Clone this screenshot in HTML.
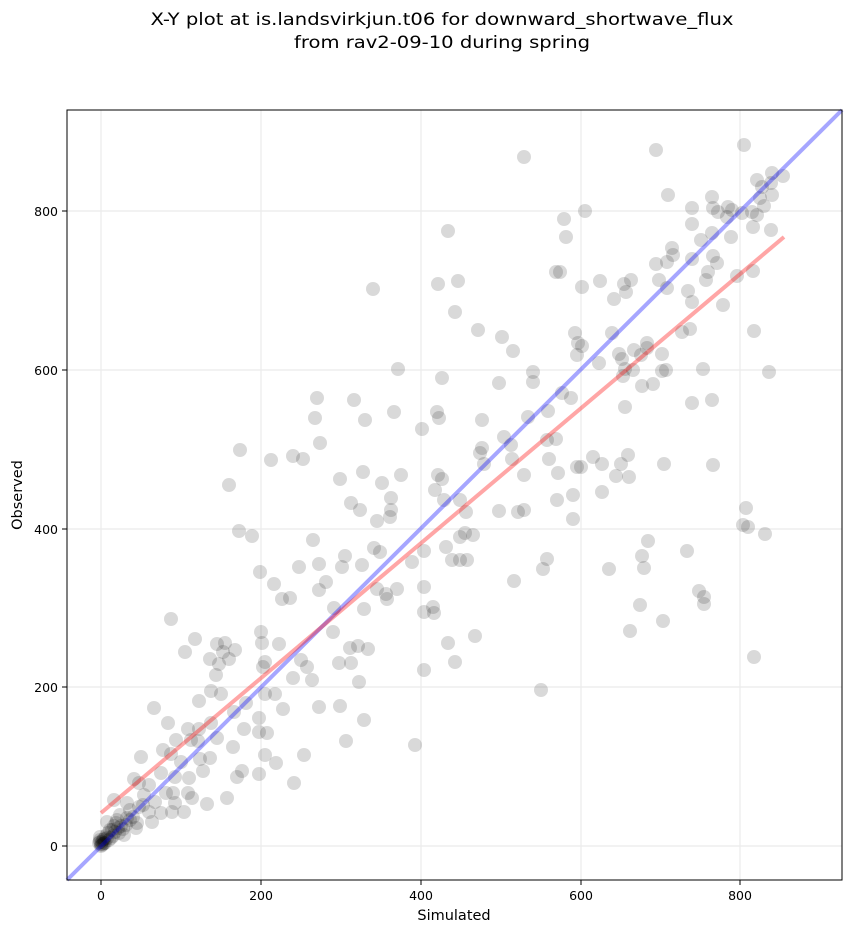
<!DOCTYPE html>
<html><head><meta charset="utf-8"><style>
body{margin:0;background:#fff}
svg text{font-family:"DejaVu Sans","Liberation Sans",sans-serif}
</style></head><body>
<svg id="s" width="851" height="934" xmlns="http://www.w3.org/2000/svg">
<rect width="851" height="934" fill="#fff"/>
<text x="442" y="25" font-size="17" text-anchor="middle" textLength="583" lengthAdjust="spacingAndGlyphs">X-Y plot at is.landsvirkjun.t06 for downward_shortwave_flux</text>
<text x="442" y="48" font-size="17" text-anchor="middle" textLength="296" lengthAdjust="spacingAndGlyphs">from rav2-09-10 during spring</text>
<g stroke="#ebebeb" stroke-width="1.2">
<line x1="101" y1="110" x2="101" y2="880"/><line x1="261" y1="110" x2="261" y2="880"/><line x1="421" y1="110" x2="421" y2="880"/><line x1="581" y1="110" x2="581" y2="880"/><line x1="740" y1="110" x2="740" y2="880"/>
<line x1="67" y1="846" x2="842" y2="846"/><line x1="67" y1="687" x2="842" y2="687"/><line x1="67" y1="529" x2="842" y2="529"/><line x1="67" y1="370" x2="842" y2="370"/><line x1="67" y1="211" x2="842" y2="211"/>
</g>
<g id="pts" fill="#000" fill-opacity="0.15"></g>
<line x1="67" y1="880" x2="842" y2="110" stroke="#0000ff" stroke-opacity="0.35" stroke-width="4"/>
<line x1="101" y1="813" x2="784" y2="237" stroke="#ff0000" stroke-opacity="0.35" stroke-width="4"/>
<rect x="67" y="110" width="775" height="770" fill="none" stroke="#000" stroke-width="1"/>
<g stroke="#000"><line x1="101" y1="880" x2="101" y2="885"/><line x1="261" y1="880" x2="261" y2="885"/><line x1="421" y1="880" x2="421" y2="885"/><line x1="581" y1="880" x2="581" y2="885"/><line x1="740" y1="880" x2="740" y2="885"/>
<line x1="62" y1="846" x2="67" y2="846"/><line x1="62" y1="687" x2="67" y2="687"/><line x1="62" y1="529" x2="67" y2="529"/><line x1="62" y1="370" x2="67" y2="370"/><line x1="62" y1="211" x2="67" y2="211"/></g>
<g font-size="12.5" text-anchor="middle"><text x="101" y="900">0</text><text x="261" y="900">200</text><text x="421" y="900">400</text><text x="581" y="900">600</text><text x="740" y="900">800</text></g>
<g font-size="12.5" text-anchor="end"><text x="58" y="851">0</text><text x="58" y="692">200</text><text x="58" y="534">400</text><text x="58" y="375">600</text><text x="58" y="216">800</text></g>
<text x="454" y="920" font-size="14.5" text-anchor="middle">Simulated</text>
<text x="22" y="495" font-size="14.5" text-anchor="middle" transform="rotate(-90 22 495)">Observed</text>
</svg>
<script>
var p=[[239,531],[252,536],[313,540],[351,503],[360,510],[345,556],[362,565],[319,564],[316,566],[299,567],[342,567],[260,572],[326,582],[274,584],[319,590],[282,599],[290,598],[171,619],[364,609],[334,608],[333,632],[261,632],[195,639],[185,652],[217,644],[225,643],[235,650],[223,652],[229,659],[210,659],[219,664],[216,675],[262,643],[279,644],[265,662],[263,667],[301,660],[307,667],[293,678],[312,680],[339,663],[351,663],[350,648],[358,646],[359,682],[211,691],[221,694],[199,701],[154,708],[265,694],[275,694],[283,709],[246,703],[234,712],[319,707],[340,706],[364,720],[259,718],[244,729],[259,732],[267,733],[168,723],[188,729],[199,729],[211,723],[217,738],[176,740],[191,740],[198,741],[163,750],[141,757],[171,754],[181,762],[200,759],[210,758],[233,747],[265,755],[276,763],[304,755],[346,741],[161,773],[175,777],[189,778],[203,771],[134,779],[139,783],[149,785],[166,793],[173,793],[188,793],[192,798],[207,804],[227,798],[237,777],[242,771],[259,774],[294,783],[114,800],[127,803],[144,795],[155,802],[139,807],[161,813],[172,812],[184,812],[175,803],[149,812],[107,822],[117,820],[127,818],[137,823],[152,822],[112,830],[124,835],[100,840],[102,842],[104,839],[106,836],[108,833],[110,830],[103,844],[101,846],[105,843],[109,840],[113,836],[115,832],[118,828],[121,826],[114,826],[119,833],[123,829],[126,825],[130,820],[133,817],[111,838],[99,843],[100,837],[116,823],[120,815],[130,810],[143,805],[136,828],[101,844],[102,845],[104,843],[100,842],[103,840],[107,838],
[478,330],[502,337],[513,351],[575,333],[577,355],[398,369],[442,378],[533,372],[533,382],[499,383],[317,398],[354,400],[315,418],[365,420],[394,412],[437,412],[439,418],[422,429],[482,420],[562,393],[571,398],[548,411],[528,417],[320,443],[293,456],[303,459],[504,437],[511,445],[482,448],[480,453],[484,464],[512,459],[547,440],[556,439],[549,459],[558,473],[524,475],[577,467],[340,479],[363,472],[382,483],[401,475],[438,475],[442,479],[435,490],[391,498],[351,502],[361,510],[391,510],[390,517],[377,521],[444,500],[460,500],[466,512],[464,515],[499,511],[518,512],[524,510],[557,500],[573,495],[573,519],[318,564],[345,555],[363,565],[374,548],[380,552],[412,562],[424,551],[446,547],[460,537],[465,533],[473,535],[452,560],[460,560],[467,560],[547,559],[543,569],[514,581],[280,597],[291,598],[377,589],[386,594],[387,599],[397,589],[424,587],[365,609],[424,612],[433,607],[434,613],[282,644],[357,645],[368,649],[448,643],[475,636],[424,670],[455,662],[541,690],[283,709],[318,707],[366,720],[346,742],[415,745],[304,755],
[656,150],[744,145],[668,195],[585,211],[564,219],[566,237],[692,208],[692,224],[712,197],[713,208],[718,212],[728,207],[727,217],[732,210],[742,213],[752,212],[757,215],[757,180],[762,187],[772,173],[771,183],[783,176],[760,198],[772,195],[764,206],[753,227],[771,230],[731,237],[712,233],[701,240],[672,248],[673,255],[667,262],[656,264],[692,259],[713,256],[717,263],[708,272],[706,280],[753,271],[737,276],[560,272],[600,281],[582,287],[631,280],[624,284],[626,292],[614,299],[659,280],[667,288],[688,291],[692,302],[723,305],[574,331],[612,333],[578,343],[582,346],[577,357],[599,363],[619,354],[622,359],[634,350],[641,355],[647,343],[647,348],[662,354],[625,369],[633,370],[623,376],[662,371],[666,370],[682,332],[690,329],[754,331],[703,369],[769,372],[642,386],[653,384],[563,393],[571,398],[625,407],[692,403],[712,400],
[593,457],[602,464],[628,455],[621,464],[616,476],[629,477],[581,467],[560,473],[664,464],[713,465],[602,492],[574,495],[560,500],[573,519],[746,508],[743,525],[748,527],[765,534],[648,541],[642,556],[644,568],[609,569],[687,551],[699,591],[704,597],[704,604],[640,605],[663,621],[630,631],[754,657],
[524,157],[448,231],[373,289],[438,284],[458,281],[556,272],[455,312],[478,328],[503,335],[240,450],[271,460],[229,485]];
var g=document.getElementById('pts'),h='',kept=[];
p.forEach(function(a){
 var origin=a[0]<140&&a[1]>800;
 if(!origin){for(var i=0;i<kept.length;i++){var dx=kept[i][0]-a[0],dy=kept[i][1]-a[1];if(dx*dx+dy*dy<16)return;}}
 kept.push(a);h+='<circle cx="'+a[0]+'" cy="'+a[1]+'" r="7"/>';});
g.innerHTML=h;
</script>
</body></html>
